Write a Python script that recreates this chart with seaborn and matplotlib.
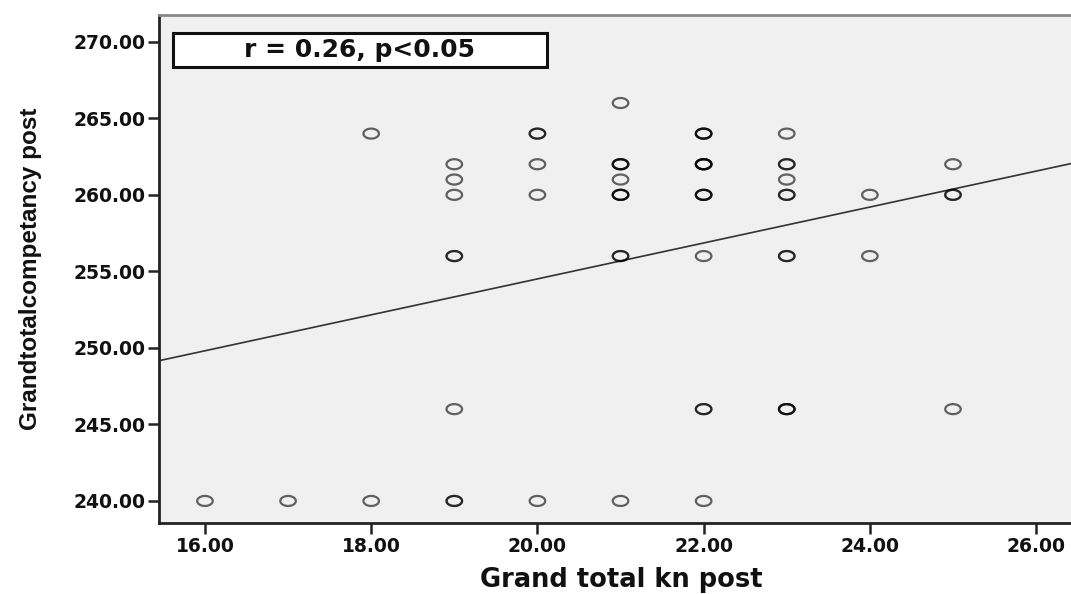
import numpy as np
import pandas as pd
import seaborn as sns
import matplotlib
matplotlib.use("Agg")
import matplotlib.pyplot as plt
from matplotlib.path import Path
from matplotlib.patches import Rectangle

# ---- data (darker rings = overlapping duplicates) ----
kn_post = [16,
           17,
           18, 18,
           19, 19, 19, 19, 19, 19, 19, 19,
           20, 20, 20, 20, 20,
           21, 21, 21, 21, 21, 21, 21, 21, 21, 21, 21,
           22, 22, 22, 22, 22, 22, 22, 22, 22, 22, 22, 22, 22, 22,
           23, 23, 23, 23, 23, 23, 23, 23, 23, 23, 23,
           24, 24,
           25, 25, 25, 25]
competency_post = [240,
                   240,
                   264, 240,
                   262, 261, 260, 256, 256, 246, 240, 240,
                   264, 264, 262, 260, 240,
                   266, 262, 262, 262, 261, 260, 260, 260, 256, 256, 240,
                   264, 264, 264, 262, 262, 262, 262, 260, 260, 260, 256, 246, 246, 240,
                   264, 262, 262, 261, 260, 260, 256, 256, 246, 246, 246,
                   260, 256,
                   262, 260, 260, 246]
x_ticks = [16, 18, 20, 22, 24, 26]
y_ticks = [240, 245, 250, 255, 260, 265, 270]
annotation = "r = 0.26, p<0.05"
x_label = "Grand total kn post"
y_label = "Grandtotalcompetancy post"

df = pd.DataFrame({"kn": kn_post, "comp": competency_post})

sns.set_theme(style="white")
plt.rcParams["font.family"] = ["DejaVu Sans"]

W, H = 1071, 594
L, R, T, B = 159, 1071, 15, 523
fig = plt.figure(figsize=(W / 100, H / 100), dpi=100)
ax = fig.add_axes([L / W, 1 - B / H, (R - L) / W, (B - T) / H])
ax.set_facecolor("#f0f0f0")

XLIM = (15.447, 26.42)
YLIM = (238.56, 271.75)
ax.set_xlim(*XLIM)
ax.set_ylim(*YLIM)

# elliptical ring marker (the reference is stretched horizontally)
t = np.linspace(0, 2 * np.pi, 60)
ring = Path(np.column_stack([1.55 * np.cos(t), np.sin(t)]), closed=True)

sns.scatterplot(data=df, x="kn", y="comp", ax=ax, marker=ring, s=125,
                facecolor="none", edgecolor=(0, 0, 0, 0.6), linewidth=1.6,
                zorder=3, legend=False)
sns.regplot(data=df, x="kn", y="comp", ax=ax, scatter=False, ci=None,
            truncate=False, line_kws=dict(color="#333333", lw=1.2, zorder=2))

ax.set_xlim(*XLIM)
ax.set_ylim(*YLIM)

ax.set_xticks(x_ticks)
ax.set_xticklabels([f"{v:.2f}" for v in x_ticks])
ax.set_yticks(y_ticks)
ax.set_yticklabels([f"{v:.2f}" for v in y_ticks])
ax.tick_params(axis="both", which="major", direction="out", length=8, width=1.8,
               color="#222222", labelsize=13.5, labelcolor="#111111", pad=2,
               bottom=True, left=True)
for lab in ax.get_xticklabels() + ax.get_yticklabels():
    lab.set_fontweight("bold")

for side in ["left", "bottom"]:
    ax.spines[side].set_color("#222222")
    ax.spines[side].set_linewidth(2)
ax.spines["top"].set_color("#888888")
ax.spines["top"].set_linewidth(2)
ax.spines["right"].set_visible(False)

ax.set_xlabel(x_label, fontsize=18.5, fontweight="bold", color="#111111",
              va="baseline")
ax.xaxis.set_label_coords((621 - L) / (R - L), -(587 - B) / (B - T))
ax.set_ylabel(y_label, fontsize=17.5, fontweight="bold", color="#111111",
              family=["Liberation Sans Narrow", "Liberation Sans", "DejaVu Sans"])
ax.yaxis.set_label_coords((42 - L) / (R - L), 0.5)

# annotation box
bx0 = (173 - L) / (R - L)
bx1 = (547 - L) / (R - L)
by0 = (B - 67) / (B - T)
by1 = (B - 33) / (B - T)
ax.add_patch(Rectangle((bx0, by0), bx1 - bx0, by1 - by0, transform=ax.transAxes,
                       facecolor="white", edgecolor="#111111", lw=2.2, zorder=5))
ax.text((bx0 + bx1) / 2, (by0 + by1) / 2, annotation, transform=ax.transAxes,
        ha="center", va="center", fontsize=18, fontweight="bold", color="#111111",
        zorder=6)

fig.savefig("out.png", dpi=100, facecolor="white")
